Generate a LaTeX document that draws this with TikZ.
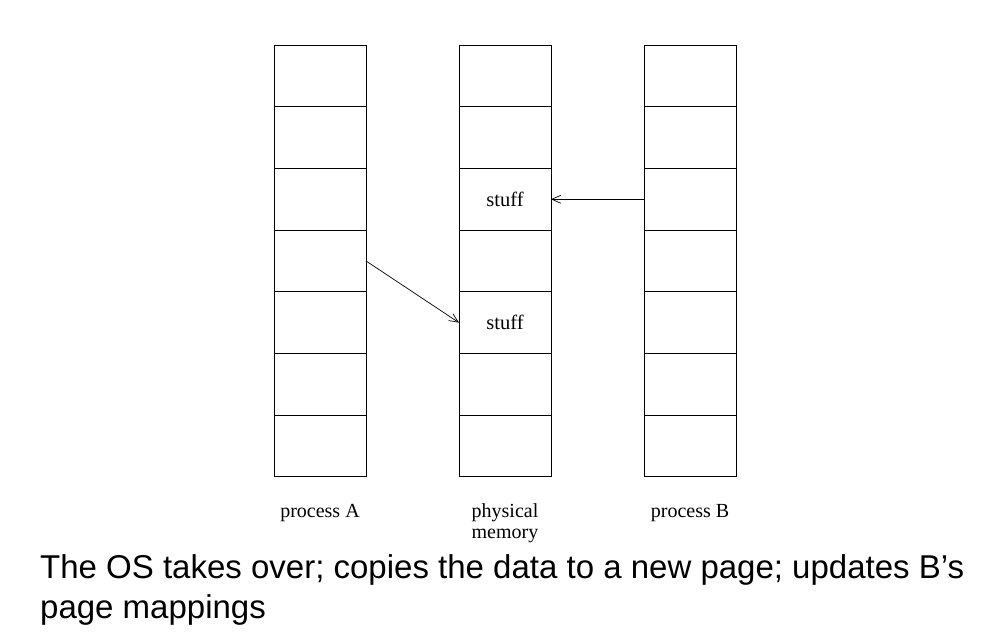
\documentclass[tikz,border=0pt]{standalone}
\usepackage{fontspec}
\setmainfont{Liberation Serif}
\newfontfamily\capfont{Liberation Sans}
\usetikzlibrary{arrows.meta}
\begin{document}
\begin{tikzpicture}[x=1pt,y=-1pt,
  cell/.style={draw,line width=0.9pt,minimum width=92pt,minimum height=61.7pt,inner sep=0pt,outer sep=0pt},
  cellt/.style={font=\fontsize{20.5}{22}\selectfont,inner sep=0pt},
  lbl/.style={font=\fontsize{20}{22}\selectfont,align=center,anchor=base,inner sep=0pt},
  link/.style={draw,line width=0.7pt,-{Straight Barb[length=9pt,width=8pt]}}]
\useasboundingbox (0,0) rectangle (981,641);
\foreach \c/\x in {A/320,P/505,B/690}{
  \foreach \r in {1,...,7}{
    \node[cell] (\c\r) at (\x,{45+61.7*(\r-0.5)}) {};
  }
}
\node[cellt] (s1) at (P3) {stuff};
\node[cellt] (s2) at (P5) {stuff};
\draw[link] (A4.east) -- (P5.west);
\draw[link] (B3.west) -- (P3.east);
\node[lbl] (la) at (320,517) {process A};
\node[lbl,font=\fontsize{20}{21.5}\selectfont] (lp) at (505,538.5) {physical\\memory};
\node[lbl] (lb) at (690,517) {process B};
\node[anchor=base west,inner sep=0pt,align=left,font=\capfont\fontsize{33}{40}\selectfont] (cap) at (40,618) {The OS takes over; copies the data to a new page; updates B’s\\page mappings};
\end{tikzpicture}
\end{document}
